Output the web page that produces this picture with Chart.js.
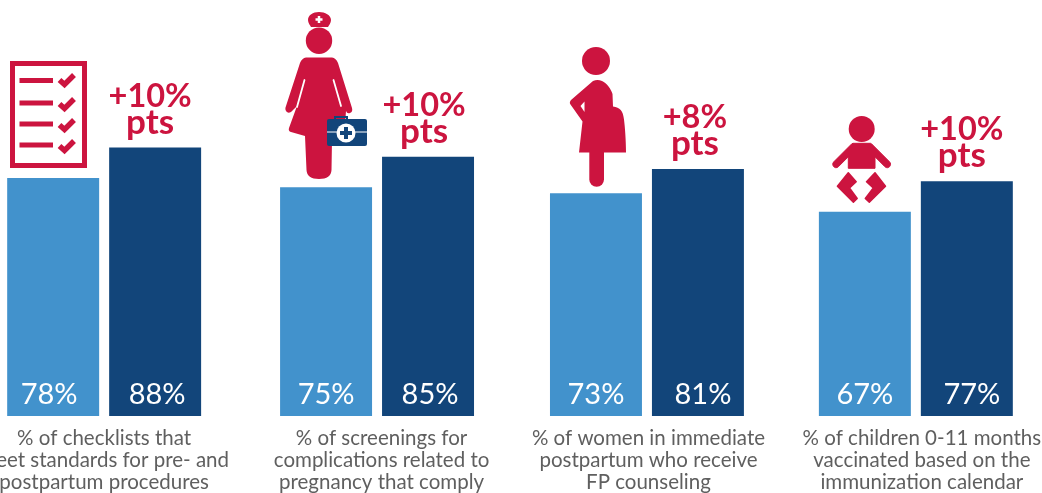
<!DOCTYPE html>
<html>
<head>
<meta charset="utf-8">
<script src="https://cdn.jsdelivr.net/npm/chart.js@4"></script>
<style>
html,body{margin:0;padding:0;background:#fff;width:1042px;height:493px;overflow:hidden}
#wrap{position:absolute;left:-30px;top:0;width:1082px;height:493px}
svg{position:absolute;left:0;top:0;width:1042px;height:493px;pointer-events:none}
</style>
</head>
<body>
<div id="wrap"><canvas id="c"></canvas></div>
<svg viewBox="0 0 1042 493" xmlns="http://www.w3.org/2000/svg">
  <!-- checklist -->
  <g fill="none" stroke="#cc143f">
    <rect x="12.500" y="63.500" width="72" height="102" stroke-width="5"/>
    <path d="M19.500 80.500H53M19.500 103H53M19.500 124H53M19.500 145H53" stroke-width="5"/>
    <path d="M59.500 80l5 4.500 9.500-9.500M59.500 104l5 4.500 9.500-9.500M59.500 125l5 4.500 9.500-9.500M59.500 146l5 4.500 9.500-9.500" stroke-width="5.500"/>
  </g>
  <!-- nurse -->
  <g fill="#cc143f">
    <path d="M308 20c0-5 5-8 11-8s12 3 12 8c0 3-2 5-3 7h-17c-1-2-3-4-3-7z"/>
    <circle cx="319" cy="40.700" r="13.200"/>
    <path d="M306 57.500H332Q336 58 338 63L352 108Q353 112 350 113Q347 114 346 111L345 125V140H332L331.500 170Q331 179 319 179Q307 179 306.500 170L305 136L291 132Q288 131 289 128L297 106L291 112Q287 114 285.500 110Q285 108 286 106L300 63Q302 58 306 57.500Z"/>
  </g>
  <path d="M304.500 80l-7.500 27M333.500 80l7.500 26" stroke="#fff" stroke-width="1.800" stroke-linecap="round" fill="none"/>
  <path d="M315.500 19.500h7M319 16v7" stroke="#fff" stroke-width="2.500"/>
  <g>
    <path d="M338 121h-3v-4h12v4h-3" fill="none" stroke="#12457a" stroke-width="2"/>
    <rect x="327" y="119" width="40" height="27" rx="2" fill="#12457a"/>
    <path d="M327 132h40" stroke="#fff" stroke-width="1"/>
    <circle cx="346" cy="133" r="9.500" fill="#fff"/>
    <path d="M340 133h12M346 127v12" stroke="#12457a" stroke-width="4"/>
  </g>
  <!-- pregnant woman -->
  <g fill="#cc143f">
    <circle cx="596" cy="61" r="14"/>
    <path d="M593 81c3-1.500 6-1.500 9 0 5 2 9 8 10.500 13l.500 12.500c7 1 10 4 11 13 1 8 2 21 2 33h-47l3.500-31-12-17c-1-1.500-.8-3 .500-4.500z"/>
    <path d="M589.300 150h14.700v29.500a7.350 7.350 0 0 1-14.700 0z"/>
  </g>
  <path d="M584.500 101.500l-4 4.500 4 6z" fill="#fff"/>
  <!-- baby -->
  <g fill="#cc143f" stroke="#cc143f" stroke-linejoin="round">
    <circle cx="861.700" cy="129" r="13" stroke="none"/>
    <path d="M853 143.300h17.500l1 .5 18 18c3 3-1 8-4.500 5l-10-10v11.500h-26.700v-11.500l-10 10c-3.500 3-7.500-2-4.500-5l18-18z" stroke-width="1"/>
    <path d="M848.300 172.800l7.900 8.900-6.700 6.300 7.700 10.500-3.800 3.700-16-16z" stroke-width="1.500"/>
    <path d="M875 172.800l-8.500 8.900 6.800 6.300-8 10.500 4 3.700 16.200-16z" stroke-width="1.500"/>
  </g>
</svg>
<script>
const categories = [
  ["% of checklists that", "meet standards for pre- and", "postpartum procedures"],
  ["% of screenings for", "complications related to", "pregnancy that comply"],
  ["% of women in immediate", "postpartum who receive", "FP counseling"],
  ["% of children 0-11 months", "vaccinated based on the", "immunization calendar"]
];
const baseline = [78, 75, 73, 67];
const endline = [88, 85, 81, 77];
const changeLabels = ["+10%", "+10%", "+8%", "+10%"];
const changeUnit = "pts";

// layout nudges: the groups in the source are not perfectly evenly spaced
const groupShift = [-1.1, 1.3, 0.7, -0.9];
const labelShift = [0, 4.5, 1.5, 6];
const changeShift = [-5, -4, -3, -5];
const valueShift = [[-4, 0, 0, 0], [2, 2, 5, 5]];

const textPlugin = {
  id: "textPlugin",
  afterDatasetsDraw(chart) {
    const { ctx, scales } = chart;
    ctx.save();
    ctx.textAlign = "center";
    ctx.textBaseline = "alphabetic";
    ctx.fillStyle = "#ffffff";
    ctx.font = '29px Lato';
    chart.data.datasets.forEach((ds, di) => {
      chart.getDatasetMeta(di).data.forEach((bar, i) => {
        ctx.fillText(ds.data[i] + "%", bar.x + valueShift[di][i], scales.y.getPixelForValue(0) - 12);
      });
    });
    ctx.fillStyle = "#cc143f";
    chart.getDatasetMeta(1).data.forEach((bar, i) => {
      const x = bar.x + changeShift[i];
      ctx.font = 'bold 32.5px Lato';
      ctx.fillText(changeLabels[i], x, bar.y - 41);
      ctx.font = 'bold 35px Lato';
      ctx.fillText(changeUnit, x, bar.y - 14);
    });
    ctx.fillStyle = "#5f5f5f";
    ctx.font = '20.5px Lato';
    categories.forEach((lines, i) => {
      const x = scales.x.getPixelForTick(i) + labelShift[i];
      lines.forEach((t, j) => ctx.fillText(t, x, 445 + j * 22));
    });
    ctx.restore();
  }
};

new Chart(document.getElementById("c"), {
  type: "bar",
  data: {
    labels: categories,
    datasets: [
      { label: "Baseline", data: baseline, backgroundColor: "#4292cc" },
      { label: "Endline", data: endline, backgroundColor: "#12457a" }
    ]
  },
  options: {
    responsive: true,
    maintainAspectRatio: false,
    animation: false,
    layout: { padding: { top: 1.2, left: 0, right: 0, bottom: 0 } },
    categoryPercentage: 0.7584,
    barPercentage: 0.902,
    plugins: { legend: { display: false }, tooltip: { enabled: false } },
    scales: {
      x: {
        grid: { display: false },
        border: { display: false },
        ticks: { display: false },
        afterFit(s) {
          s.height = 77;
          if (!s._shifted) {
            const base = s.getPixelForValue;
            s.getPixelForValue = function (v) {
              return base.call(this, v) + (groupShift[Math.round(v)] || 0);
            };
            s._shifted = true;
          }
        }
      },
      y: { display: false, min: 0, max: 136 }
    }
  },
  plugins: [textPlugin]
});
</script>
</body>
</html>
